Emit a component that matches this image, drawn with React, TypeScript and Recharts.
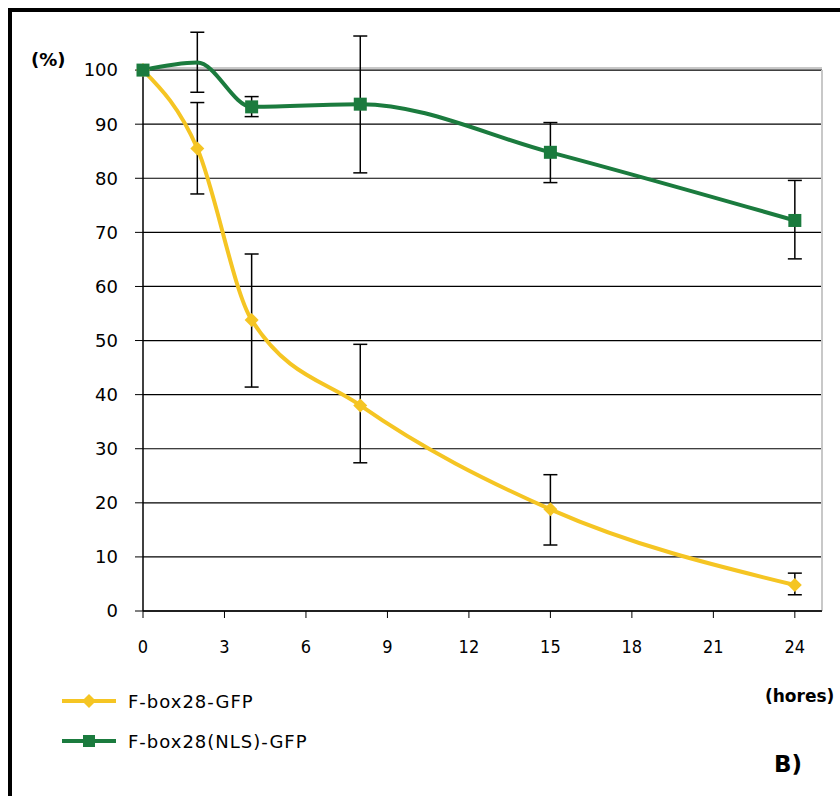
import React from 'react';
import {
  LineChart,
  Line,
  XAxis,
  YAxis,
  CartesianGrid,
  ErrorBar,
  ReferenceLine,
} from 'recharts';

// hours after treatment
const hours = [0, 2, 4, 8, 15, 24];
// F-box28-GFP (%)
const fbox = [100, 85.5, 53.8, 38.0, 18.8, 4.8];
const fboxErr: ([number, number] | null)[] = [null, [8.4, 8.5], [12.4, 12.2], [10.6, 11.3], [6.6, 6.4], [1.8, 2.2]];
// F-box28(NLS)-GFP (%)
const nls = [100, 101.4, 93.2, 93.7, 84.8, 72.2];
const nlsErr: ([number, number] | null)[] = [null, [5.5, 5.6], [1.8, 1.9], [12.7, 12.6], [5.6, 5.5], [7.1, 7.4]];

const xTicks = [0, 3, 6, 9, 12, 15, 18, 21, 24];
const yTicks = [0, 10, 20, 30, 40, 50, 60, 70, 80, 90, 100];

const YELLOW = '#F5C523';
const GREEN = '#1B7B3E';

const data = hours.map((h, i) => ({
  h,
  fbox: fbox[i],
  fboxErr: fboxErr[i],
  nls: nls[i],
  nlsErr: nlsErr[i],
}));

const Diamond = (props: any) => {
  const { cx, cy, index } = props;
  if (cx == null || cy == null) return <g key={`d-${index}`} />;
  const r = 7;
  return (
    <polygon
      key={`d-${index}`}
      points={`${cx},${cy - r} ${cx + r},${cy} ${cx},${cy + r} ${cx - r},${cy}`}
      fill={YELLOW}
    />
  );
};

const Square = (props: any) => {
  const { cx, cy, index } = props;
  // the original has no marker at the 2 h point of this series
  if (cx == null || cy == null || index === 1) return <g key={`s-${index}`} />;
  return <rect key={`s-${index}`} x={cx - 6.5} y={cy - 6.5} width={13} height={13} fill={GREEN} />;
};

const legendItems = [
  { name: 'F-box28-GFP', color: YELLOW, shape: 'diamond' },
  { name: 'F-box28(NLS)-GFP', color: GREEN, shape: 'square' },
];

const LegendBox = () => (
  <div style={{ fontFamily: 'DejaVu Sans', fontSize: 18, letterSpacing: 1, color: '#000' }}>
    {legendItems.map((item) => (
      <div key={item.name} style={{ display: 'flex', alignItems: 'center', height: 40 }}>
        <svg width={60} height={20} style={{ marginRight: 6 }}>
          <line x1={0} y1={10} x2={54} y2={10} stroke={item.color} strokeWidth={4} />
          {item.shape === 'diamond' ? (
            <polygon points="27,3 34,10 27,17 20,10" fill={item.color} />
          ) : (
            <rect x={21} y={4} width={12} height={12} fill={item.color} />
          )}
        </svg>
        <span>{item.name}</span>
      </div>
    ))}
  </div>
);

export default function App() {
  return (
    <div style={{ position: 'absolute', left: 0, top: 0, width: 840, height: 796, overflow: 'hidden', background: '#fff' }}>
      {/* figure frame */}
      <div
        style={{
          position: 'absolute',
          left: 8,
          top: 8,
          width: 900,
          height: 900,
          borderTop: '4px solid #000',
          borderLeft: '4px solid #000',
        }}
      />
      <div style={{ position: 'absolute', left: 0, top: 0 }}>
        <LineChart width={840} height={796} data={data} margin={{ top: 16, right: 18, bottom: 125, left: 0 }}>
          <CartesianGrid vertical={false} horizontalValues={yTicks} stroke="#000" strokeWidth={1.2} />
          <ReferenceLine y={100.4} stroke="#c8c8c8" strokeWidth={2} />
          <ReferenceLine
            segment={[{ x: 25, y: 0 }, { x: 25, y: 100 }]}
            stroke="#c8c8c8"
            strokeWidth={2}
          />
          <ReferenceLine
            segment={[{ x: 0, y: 0 }, { x: 0, y: 100 }]}
            stroke="#000"
            strokeWidth={1.5}
          />
          <XAxis
            dataKey="h"
            type="number"
            domain={[0, 25]}
            ticks={xTicks}
            height={60}
            tickSize={7}
            tickMargin={22}
            axisLine={{ stroke: '#000', strokeWidth: 1.5 }}
            tickLine={{ stroke: '#000' }}
            tick={{ fill: '#000', fontSize: 18, fontFamily: 'DejaVu Sans Condensed' }}
          />
          <YAxis
            type="number"
            domain={[0, 110]}
            ticks={yTicks}
            width={143}
            tickSize={8}
            tickMargin={17}
            axisLine={false}
            tickLine={{ stroke: '#000' }}
            tick={{ fill: '#000', fontSize: 18, fontFamily: 'DejaVu Sans' }}
          />
          <Line
            dataKey="fbox"
            name="F-box28-GFP"
            type="monotone"
            stroke={YELLOW}
            strokeWidth={4}
            dot={Diamond}
            activeDot={false}
            isAnimationActive={false}
          >
            <ErrorBar dataKey="fboxErr" direction="y" width={7} stroke="#000" strokeWidth={1.5} />
          </Line>
          <Line
            dataKey="nls"
            name="F-box28(NLS)-GFP"
            type="monotone"
            stroke={GREEN}
            strokeWidth={4}
            dot={Square}
            activeDot={false}
            isAnimationActive={false}
          >
            <ErrorBar dataKey="nlsErr" direction="y" width={7} stroke="#000" strokeWidth={1.5} />
          </Line>
        </LineChart>
      </div>
      <div style={{ position: 'absolute', left: 62, top: 681 }}>
        <LegendBox />
      </div>
      <div style={{ position: 'absolute', left: 31, top: 49, fontFamily: 'DejaVu Sans', fontWeight: 'bold', fontSize: 18 }}>
        (%)
      </div>
      <div style={{ position: 'absolute', left: 765, top: 686, fontFamily: 'DejaVu Sans', fontWeight: 'bold', fontSize: 17 }}>
        (hores)
      </div>
      <div style={{ position: 'absolute', left: 774, top: 751, fontFamily: 'DejaVu Sans', fontWeight: 'bold', fontSize: 23 }}>
        B)
      </div>
    </div>
  );
}
